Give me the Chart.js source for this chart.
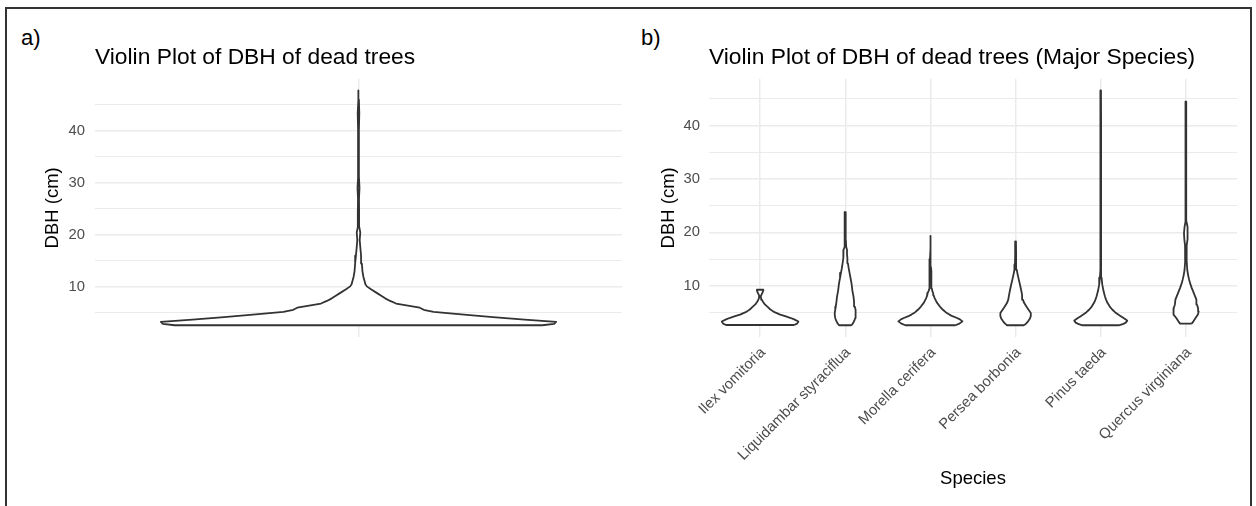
<!DOCTYPE html>
<html>
<head>
<meta charset="utf-8">
<title>Violin plots of DBH of dead trees</title>
<script src="https://cdn.jsdelivr.net/npm/chart.js@4.4.1/dist/chart.umd.min.js"></script>
<style>
  html, body { margin: 0; padding: 0; background: #fff; }
  #page { position: relative; width: 1256px; height: 506px; overflow: hidden;
          font-family: "Liberation Sans", Arial, Helvetica, sans-serif; }
  #frame { position: absolute; left: 5px; top: 7px; width: 1247px; height: 540px;
           border: 2px solid #333; box-sizing: border-box; }
  .tag { position: absolute; font-size: 22px; line-height: 22px; color: #000; }
  canvas { position: absolute; top: 0; }
</style>
</head>
<body>
<div id="page">
  <div id="frame"></div>
  <div class="tag" style="left:21px; top:27px;">a)</div>
  <div class="tag" style="left:641px; top:27px;">b)</div>
  <canvas id="allTrees" width="640" height="506" style="left:0;"></canvas>
  <canvas id="bySpecies" width="616" height="506" style="left:640px;"></canvas>
</div>
<script>
// ---- data: violin outlines as DBH levels (cm) and relative density (1 = widest violin) ----

// all dead trees
const allDbh  = [2.62, 2.9, 3.26, 3.7, 4.2, 4.7, 5.2, 5.6, 6.0, 6.4, 6.8, 7.3, 7.8, 8.3, 8.85, 9.5, 10.1, 10.5, 11.9, 13, 14.5, 16, 17.7, 19, 20.5, 21.5, 23, 25, 27, 29, 31, 35, 40, 43.4, 46, 47.8];
const allDens = [0.93, 0.99, 1.0, 0.84, 0.68, 0.52, 0.38, 0.33, 0.31, 0.25, 0.19, 0.16, 0.135, 0.115, 0.092, 0.065, 0.042, 0.035, 0.025, 0.02, 0.017, 0.013, 0.009, 0.006, 0.009, 0.004, 0.003, 0.003, 0.0025, 0.005, 0.0025, 0.002, 0.002, 0.004, 0.002, 0.001];

// major species
const species = ['Ilex vomitoria', 'Liquidambar styraciflua', 'Morella cerifera', 'Persea borbonia', 'Pinus taeda', 'Quercus virginiana'];

const ilexDbh  = [2.65, 2.9, 3.3, 3.7, 4.0, 4.3, 4.6, 5.0, 5.2, 5.6, 6.0, 6.5, 7.0, 7.4, 7.7, 8.0, 8.4, 8.8, 9.1, 9.25];
const ilexDens = [0.888, 0.966, 1.0, 0.888, 0.783, 0.653, 0.522, 0.392, 0.340, 0.261, 0.204, 0.125, 0.075, 0.045, 0.028, 0.015, 0.040, 0.068, 0.081, 0.084];

const liquidambarDbh  = [2.6, 2.8, 3.0, 3.5, 3.96, 4.5, 4.9, 5.5, 6.1, 7.0, 8.0, 9.0, 10.5, 11.5, 12.4, 13.3, 14.2, 15.2, 16.0, 16.7, 17.3, 18.5, 20, 22, 23.8];
const liquidambarDens = [0.162, 0.183, 0.204, 0.240, 0.261, 0.274, 0.274, 0.261, 0.248, 0.230, 0.214, 0.188, 0.162, 0.136, 0.112, 0.089, 0.070, 0.055, 0.045, 0.046, 0.024, 0.016, 0.013, 0.011, 0.010];

const morellaDbh  = [2.6, 2.9, 3.33, 3.7, 4.0, 4.3, 4.6, 5.0, 5.5, 6.1, 6.8, 7.2, 7.7, 8.2, 8.6, 9.0, 9.5, 10.5, 11.5, 12.3, 12.8, 13.5, 15, 17, 19.35];
const morellaDens = [0.653, 0.757, 0.836, 0.770, 0.679, 0.574, 0.496, 0.405, 0.326, 0.248, 0.175, 0.144, 0.110, 0.084, 0.073, 0.050, 0.036, 0.024, 0.018, 0.030, 0.026, 0.014, 0.012, 0.010, 0.009];

const perseaDbh  = [2.6, 2.9, 3.33, 3.8, 4.3, 4.9, 5.5, 6.1, 6.8, 7.4, 8.3, 9.25, 10.2, 11.1, 12, 13, 14, 16, 18.3];
const perseaDens = [0.222, 0.274, 0.326, 0.371, 0.397, 0.397, 0.339, 0.282, 0.222, 0.191, 0.170, 0.144, 0.115, 0.086, 0.057, 0.030, 0.016, 0.012, 0.010];

const pinusDbh  = [2.6, 2.8, 3.1, 3.46, 3.7, 4.0, 4.3, 4.6, 5.0, 5.5, 6.1, 6.8, 7.4, 8.0, 9.0, 10.2, 11.5, 13, 15, 20, 25, 30, 35, 40, 46.6];
const pinusDens = [0.470, 0.574, 0.653, 0.692, 0.653, 0.587, 0.522, 0.457, 0.379, 0.305, 0.235, 0.175, 0.138, 0.110, 0.073, 0.040, 0.022, 0.014, 0.011, 0.009, 0.009, 0.008, 0.008, 0.007, 0.006];

const quercusDbh  = [2.9, 3.33, 4.0, 4.6, 5.2, 5.8, 6.5, 7.4, 8.0, 8.8, 9.6, 10.3, 11.1, 12, 13, 14.5, 16, 17.5, 18.6, 19.8, 21, 22, 25, 30, 35, 40, 44.5];
const quercusDens = [0.151, 0.196, 0.256, 0.313, 0.334, 0.319, 0.287, 0.274, 0.240, 0.196, 0.151, 0.117, 0.086, 0.057, 0.035, 0.022, 0.018, 0.022, 0.040, 0.050, 0.036, 0.016, 0.011, 0.009, 0.009, 0.008, 0.006];

// y-axis grid (major + minor) and labelled values
const dbhGrid   = [5, 10, 15, 20, 25, 30, 35, 40, 45];
const dbhLabels = [10, 20, 30, 40];

// ---- drawing helpers ----
const FONT = '"Liberation Sans", Arial, Helvetica, sans-serif';
const HALF_WIDTH = 0.45;          // widest violin spans 0.9 of a category slot
const LINE = '#333333';
const GRID = '#ebebeb';
const TICK_TEXT = '#4d4d4d';

Chart.defaults.font.family = FONT;

// closed outline: right side going up, left side coming down
function outline(center, dbh, dens) {
  const right = dbh.map((v, i) => ({ x: center + HALF_WIDTH * dens[i], y: v }));
  const left  = dbh.map((v, i) => ({ x: center - HALF_WIDTH * dens[i], y: v })).reverse();
  const pts = right.concat(left);
  pts.push(pts[0]);
  return pts;
}

function violin(points) {
  return {
    data: points,
    borderColor: LINE,
    borderWidth: 1.8,
    backgroundColor: '#ffffff',
    fill: 'shape',
    pointRadius: 0,
    tension: 0,
    borderJoinStyle: 'round'
  };
}

// y limits with 5% expansion of the data range
function dbhRange(lists) {
  const all = [].concat(...lists);
  const lo = Math.min(...all), hi = Math.max(...all);
  const pad = (hi - lo) * 0.05;
  return { min: lo - pad, max: hi + pad };
}

function yScale(range, width, labelPad, titlePad) {
  return {
    type: 'linear',
    min: range.min,
    max: range.max,
    afterBuildTicks: s => { s.ticks = dbhGrid.map(v => ({ value: v })); },
    afterFit: s => { s.width = width; s.paddingTop = 0; s.paddingBottom = 0; },
    ticks: {
      autoSkip: false,
      padding: labelPad,
      color: TICK_TEXT,
      font: { size: 14.8 },
      callback: v => dbhLabels.includes(v) ? String(v) : ''
    },
    grid: {
      color: GRID,
      lineWidth: c => (c.tick && c.tick.value % 10 === 0) ? 1.5 : 1,
      drawTicks: false
    },
    border: { display: false },
    title: {
      display: true,
      text: 'DBH (cm)',
      color: '#000',
      font: { size: 18.5 },
      padding: { top: titlePad, bottom: 0 }
    }
  };
}

function chartTitle(text) {
  return {
    display: true,
    text: text,
    align: 'start',
    fullSize: false,
    color: '#000',
    font: { size: 22.8, weight: 'normal' },
    padding: { top: 43.8, bottom: 7.5 }
  };
}

const common = {
  responsive: false,
  animation: false,
  devicePixelRatio: 1,
  events: []
};

// ---- panel a: all dead trees ----
new Chart(document.getElementById('allTrees'), {
  type: 'line',
  data: { datasets: [violin(outline(1, allDbh, allDens))] },
  options: Object.assign({}, common, {
    layout: { padding: { left: 0, right: 18, top: 0, bottom: 169 } },
    plugins: {
      legend: { display: false },
      tooltip: { enabled: false },
      title: chartTitle('Violin Plot of DBH of dead trees')
    },
    scales: {
      x: {
        type: 'linear',
        min: 0.4,
        max: 1.6,
        afterBuildTicks: s => { s.ticks = [{ value: 1 }]; },
        afterFit: s => { s.height = 0; s.paddingLeft = 0; s.paddingRight = 0; },
        ticks: { display: false },
        grid: { color: GRID, lineWidth: 1.5, drawTicks: false },
        border: { display: false }
      },
      y: yScale(dbhRange([allDbh]), 95, 10, 41.9)
    }
  })
});

// ---- panel b: major species ----
const speciesSeries = [
  [ilexDbh, ilexDens],
  [liquidambarDbh, liquidambarDens],
  [morellaDbh, morellaDens],
  [perseaDbh, perseaDens],
  [pinusDbh, pinusDens],
  [quercusDbh, quercusDens]
];
const speciesPos = species.map((_, i) => i + 1);

new Chart(document.getElementById('bySpecies'), {
  type: 'line',
  data: { datasets: speciesSeries.map((s, i) => violin(outline(speciesPos[i], s[0], s[1]))) },
  options: Object.assign({}, common, {
    layout: { padding: { left: 0, right: 19, top: 0, bottom: 10 } },
    plugins: {
      legend: { display: false },
      tooltip: { enabled: false },
      title: chartTitle('Violin Plot of DBH of dead trees (Major Species)')
    },
    scales: {
      x: {
        type: 'linear',
        min: 0.4,
        max: species.length + 0.6,
        afterBuildTicks: s => { s.ticks = speciesPos.map(v => ({ value: v })); },
        afterFit: s => { s.height = 159; s.paddingLeft = 0; s.paddingRight = 0; },
        ticks: {
          autoSkip: false,
          minRotation: 45,
          maxRotation: 45,
          padding: 7,
          labelOffset: 3,
          color: TICK_TEXT,
          font: { size: 14.8 },
          callback: v => species[v - 1]
        },
        grid: { color: GRID, lineWidth: 1.5, drawTicks: false },
        border: { display: false },
        title: {
          display: true,
          text: 'Species',
          color: '#000',
          font: { size: 18.5 },
          padding: { top: 0, bottom: 6.4 }
        }
      },
      y: yScale(dbhRange(speciesSeries.map(s => s[0])), 69, 9, 17.9)
    }
  })
});
</script>
</body>
</html>
